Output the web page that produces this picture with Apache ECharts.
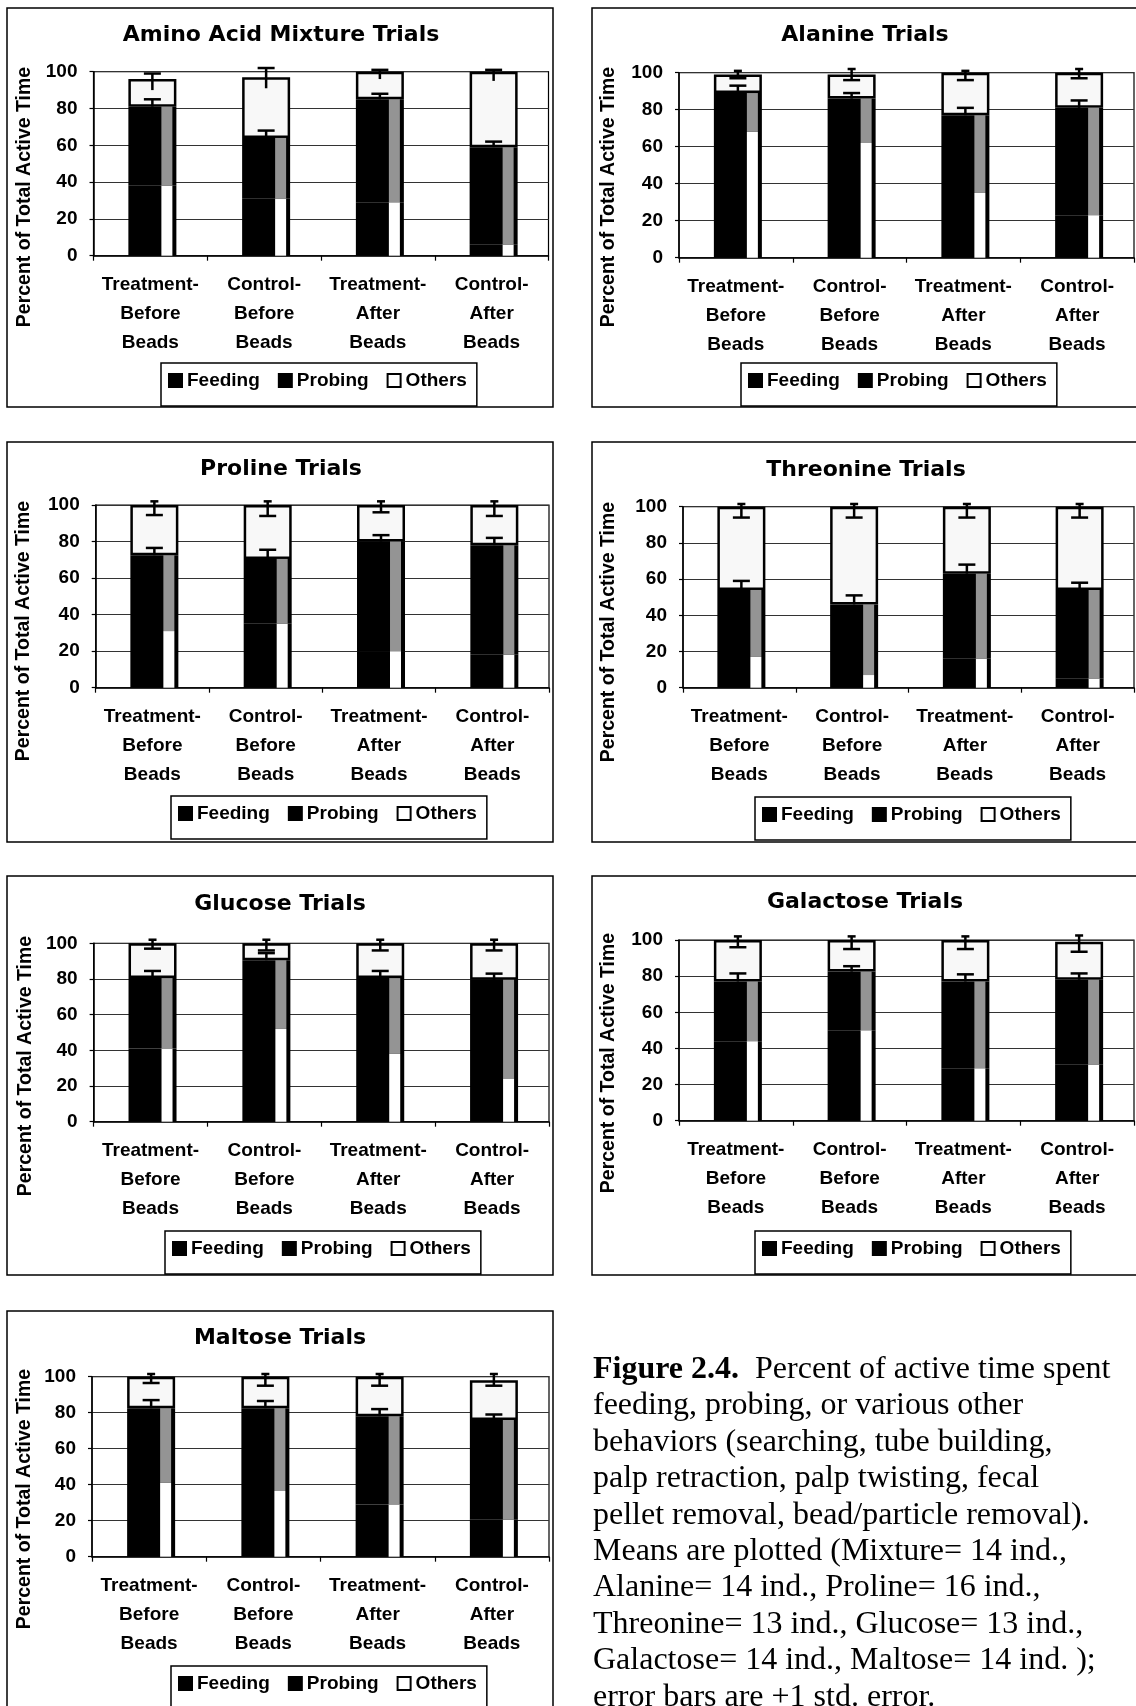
<!DOCTYPE html>
<html>
<head>
<meta charset="utf-8">
<title>Figure 2.4</title>
<script src="https://cdn.jsdelivr.net/npm/echarts@6/dist/echarts.min.js"></script>
<style>
  body { margin: 0; background: #fff; }
  #chart { position: absolute; left: 0; top: 0; width: 1136px; height: 1706px; }
  .caption {
    position: absolute;
    left: 593px;
    top: 1349px;
    font-family: "Liberation Serif", "Times New Roman", serif;
    font-size: 32px;
    line-height: 36.4px;
    color: #000;
    white-space: pre;
  }
</style>
</head>
<body>
<div id="chart"></div>
<div class="caption"><b>Figure 2.4.</b>  Percent of active time spent
feeding, probing, or various other
behaviors (searching, tube building,
palp retraction, palp twisting, fecal
pellet removal, bead/particle removal).
Means are plotted (Mixture= 14 ind.,
Alanine= 14 ind., Proline= 16 ind.,
Threonine= 13 ind., Glucose= 13 ind.,
Galactose= 14 ind., Maltose= 14 ind. );
error bars are +1 std. error.</div>
<script>
// one row per panel, one value per category
const titles = [
  "Amino Acid Mixture Trials", "Alanine Trials", "Proline Trials", "Threonine Trials",
  "Glucose Trials", "Galactose Trials", "Maltose Trials",
]
const categories = [
  "Treatment-\nBefore\nBeads", "Control-\nBefore\nBeads",
  "Treatment-\nAfter\nBeads", "Control-\nAfter\nBeads",
]
const yTicks = [0, 20, 40, 60, 80, 100]
const legendNames = ["Feeding", "Probing", "Others"]

const feeding = [
  [38, 31, 29, 6], [68, 62, 35, 23], [31, 35, 20, 18], [17, 7, 16, 5],
  [41, 52, 38, 24], [44, 50, 29, 31], [41, 36.5, 29, 20.5],
]
const probing = [
  [43, 33, 56, 53], [21, 24, 42, 58], [41.5, 35.5, 60, 60], [37, 39, 47, 49],
  [39.5, 38.5, 42.5, 55.5], [33, 32.5, 48, 47], [41.5, 46, 49, 55.5],
]
const others = [
  [15, 33, 15, 41], [10, 13, 23, 19], [27.5, 29.5, 20, 22], [46, 54, 37, 46],
  [19.5, 9.5, 19.5, 20.5], [23, 17.5, 23, 21], [17.5, 17.5, 22, 22],
]
// error bars, in percent units
const probingErr = [
  [4, 4, 3, 3], [4, 3, 4, 4], [4, 5, 3.5, 4], [5, 5, 5, 4],
  [4, 4, 4, 3.5], [4.5, 3, 4, 3.5], [4.5, 4, 4, 3],
]
const othersErrDown = [
  [6, 6, 4, 5], [2, 3, 4, 3], [5.5, 6, 4, 6], [6, 6, 6, 6],
  [3, 4, 4, 4], [4, 5, 5, 5.5], [3.5, 5, 5, 3],
]
const othersErrUp = [
  [3, 5, 1, 1], [2, 3, 1, 2], [2, 2, 2, 2], [1.5, 1.5, 1.5, 1.5],
  [2, 2, 2, 2], [2, 2, 2, 3.5], [1.5, 1.5, 1.5, 3.5],
]
const capOnTop = [true, false, false, false, false, false, false]

// page layout (px)
const panelBoxes = [
  [7, 8, 546, 399], [592, 8, 560, 399],
  [7, 442, 546, 400], [592, 442, 560, 400],
  [7, 876, 546, 399], [592, 876, 560, 399],
  [7, 1311, 546, 420],
]
const gridBoxes = [
  [93.5, 71.7, 455, 184], [679, 72.7, 455, 185],
  [95.7, 505, 453.3, 182.7], [683, 506.7, 451, 181],
  [93.6, 943.3, 455.4, 178.4], [679, 940, 455, 180.7],
  [92, 1376.7, 457, 180],
]
const titlePos = [[281, 35], [865, 35], [281, 469], [866, 470], [280, 904], [865, 902], [280, 1338]]
const namePos = [[25, 197], [609, 197], [24, 631], [609, 632], [26, 1066], [609, 1063], [25, 1499]]
const legendPos = [[161, 363], [741, 363], [171, 796], [755, 797], [165, 1231], [755, 1231], [171, 1666]]

const SANS = '"Liberation Sans", Arial, sans-serif'
const BAR_W = 48
const STRIP_W = 11
const INSET = 4
const barGap = (-(INSET + STRIP_W) / BAR_W * 100).toFixed(2) + "%"

function errorBars(topCap) {
  return function (params, api) {
    const i = api.value(0)
    const a = api.coord([i, api.value(1)])
    const b = api.coord([i, api.value(2)])
    const lo = api.coord([i, api.value(3)])
    const hi = api.coord([i, api.value(4)])
    const x = a[0] + INSET / 2
    const style = { stroke: "#000", lineWidth: 2.5 }
    const seg = (x1, y1, x2, y2) => ({ type: "line", shape: { x1, y1, x2, y2 }, style })
    const wide = 8.5
    const small = 4
    const loHalf = topCap ? 0 : wide
    const hiHalf = topCap ? wide : small
    const children = [
      seg(x, a[1], x, b[1]),
      seg(x - wide, b[1], x + wide, b[1]),
      seg(x, lo[1], x, hi[1]),
      seg(x - hiHalf, hi[1], x + hiHalf, hi[1]),
    ]
    if (loHalf) children.push(seg(x - loHalf, lo[1], x + loHalf, lo[1]))
    return { type: "group", children }
  }
}

const option = {
  animation: false,
  title: [],
  legend: [],
  grid: [],
  xAxis: [],
  yAxis: [],
  series: [],
  graphic: [],
}

titles.forEach((t, k) => {
  const [gl, gt, gw, gh] = gridBoxes[k]
  option.grid.push({
    left: gl, top: gt, width: gw, height: gh,
    show: true, borderColor: "#000", borderWidth: 1.2,
    backgroundColor: "transparent",
    outerBoundsMode: "none",
  })
  option.title.push({
    text: t,
    left: titlePos[k][0], top: titlePos[k][1],
    textAlign: "center", textVerticalAlign: "middle", padding: 0,
    textStyle: { fontFamily: "DejaVu Sans", fontWeight: "bold", fontSize: 22, color: "#000" },
  })
  option.legend.push({
    left: legendPos[k][0], top: legendPos[k][1],
    padding: [8, 10, 16, 7],
    itemGap: 18, itemWidth: 13, itemHeight: 13,
    borderColor: "#000", borderWidth: 1.5, backgroundColor: "#fff",
    selectedMode: false,
    textStyle: { fontFamily: SANS, fontSize: 19, fontWeight: "bold", color: "#000" },
    data: [
      { name: legendNames[0], icon: "rect" },
      { name: legendNames[1], icon: "rect" },
      { name: legendNames[2], icon: "rect", itemStyle: { color: "#fff", borderColor: "#000", borderWidth: 2 } },
    ],
  })
  option.xAxis.push({
    type: "category", gridIndex: k, data: categories,
    axisLine: { lineStyle: { color: "#000", width: 1.5 } },
    axisTick: { show: true, length: 5, lineStyle: { color: "#000", width: 1.2 } },
    axisLabel: {
      interval: 0, margin: 15, color: "#000",
      fontFamily: SANS, fontWeight: "bold", fontSize: 19, lineHeight: 28.7,
    },
    splitLine: { show: false },
  })
  option.yAxis.push({
    type: "value", gridIndex: k,
    min: yTicks[0], max: yTicks[yTicks.length - 1], interval: yTicks[1] - yTicks[0],
    axisLine: { show: true, lineStyle: { color: "#000", width: 1.5 } },
    axisTick: { show: true, length: 4, lineStyle: { color: "#000", width: 1.2 } },
    axisLabel: { margin: 16, color: "#000", fontFamily: SANS, fontWeight: "bold", fontSize: 19 },
    splitLine: { lineStyle: { color: "#333", width: 1 } },
  })

  const common = { type: "bar", xAxisIndex: k, yAxisIndex: k, barGap, silent: true, emphasis: { disabled: true } }
  option.series.push(
    { ...common, name: "Feeding", stack: "main" + k, barWidth: BAR_W, data: feeding[k],
      itemStyle: { color: "#000", borderColor: "#000", borderWidth: 2.5 } },
    { ...common, name: "Probing", stack: "main" + k, barWidth: BAR_W, data: probing[k],
      itemStyle: { color: "#000", borderColor: "#000", borderWidth: 2.5 } },
    { ...common, name: "Others", stack: "main" + k, barWidth: BAR_W, data: others[k],
      itemStyle: { color: "#f8f8f8", borderColor: "#000", borderWidth: 2.5 } },
    { ...common, name: "Feeding strip", stack: "strip" + k, barWidth: STRIP_W, data: feeding[k],
      itemStyle: { color: "#fff" } },
    { ...common, name: "Probing strip", stack: "strip" + k, barWidth: STRIP_W, data: probing[k],
      itemStyle: { color: "#949494" } },
    {
      type: "custom", name: "Error", xAxisIndex: k, yAxisIndex: k, silent: true, z: 10,
      renderItem: errorBars(capOnTop[k]),
      data: categories.map((c, i) => {
        const top = feeding[k][i] + probing[k][i]
        const total = top + others[k][i]
        return [i, top, top + probingErr[k][i], total - othersErrDown[k][i], total + othersErrUp[k][i]]
      }),
    },
  )

  const [px, py, pw, ph] = panelBoxes[k]
  option.graphic.push(
    { type: "rect", z: -10, shape: { x: px, y: py, width: pw, height: ph },
      style: { fill: "none", stroke: "#000", lineWidth: 1.5 } },
    { type: "text", x: namePos[k][0], y: namePos[k][1], rotation: Math.PI / 2,
      style: { text: "Percent of Total Active Time", fill: "#000", fontFamily: SANS,
        fontWeight: "bold", fontSize: 19.5, align: "center", verticalAlign: "middle" } },
  )
})

const chart = echarts.init(document.getElementById("chart"))
chart.setOption(option)
</script>
</body>
</html>
